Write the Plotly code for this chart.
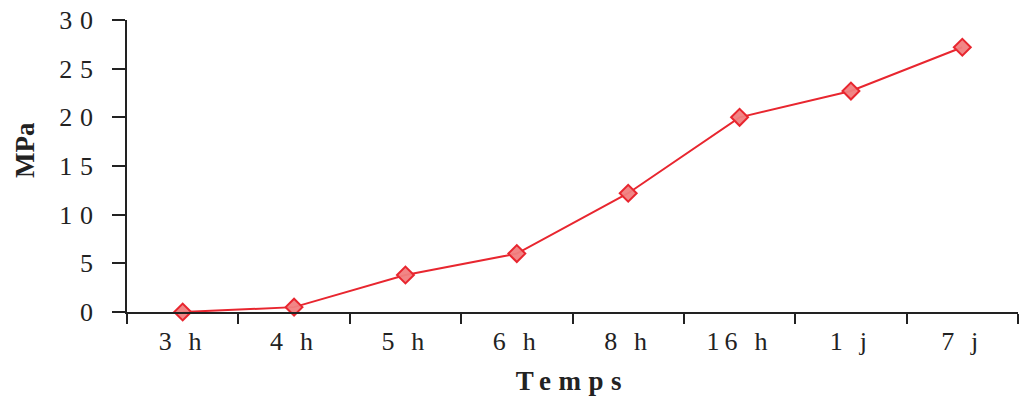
import plotly.graph_objects as go

categories = ["3 h", "4 h", "5 h", "6 h", "8 h", "16 h", "1 j", "7 j"]
mpa_values = [0.0, 0.5, 3.8, 6.0, 12.2, 20.0, 22.7, 27.2]
y_ticks = [0, 5, 10, 15, 20, 25, 30]

fig = go.Figure()
fig.add_trace(go.Scatter(
    x=categories, y=mpa_values, mode="lines+markers",
    line=dict(color="#e8262f", width=2),
    marker=dict(symbol="diamond", size=13, color="rgba(240,128,128,0.95)",
                line=dict(color="#e8262f", width=2)),
    cliponaxis=False, showlegend=False,
))

font_family = "Liberation Serif, Times New Roman, serif"
fig.update_layout(
    width=1019, height=398,
    margin=dict(l=127, r=1, t=20, b=86),
    paper_bgcolor="white", plot_bgcolor="white",
    font=dict(family=font_family, color="#222222", size=26),
    xaxis=dict(
        type="category", tickson="boundaries", ticks="outside", ticklen=10,
        tickwidth=2, tickcolor="#222222", showline=True, linecolor="#222222",
        linewidth=2, showgrid=False, zeroline=False, range=[-0.5, 7.5],
        tickfont=dict(size=26), automargin=False, ticklabelstandoff=5,
        title=dict(text="<b>Temps</b>", font=dict(size=27), standoff=16),
    ),
    yaxis=dict(
        range=[0, 30], tickvals=y_ticks, ticks="outside", ticklen=13,
        tickwidth=2, tickcolor="#222222", showline=True, linecolor="#222222",
        linewidth=2, showgrid=False, zeroline=False, ticklabelstandoff=6,
        tickfont=dict(size=26), automargin=False,
    ),
    annotations=[dict(
        text="<b>MPa</b>", textangle=-90, xref="paper", yref="paper",
        x=(25 - 127) / 891, y=(312 - 150) / 292, xanchor="center", yanchor="middle",
        showarrow=False, font=dict(size=27, family=font_family, color="#222222"),
    )],
)

post = """
document.documentElement.style.margin = '0';
document.body.style.margin = '0';
document.body.style.padding = '0';
var gd = document.getElementById('{plot_id}');
function spread() {
  gd.querySelectorAll('.xtick text').forEach(function(t){ t.style.letterSpacing = '0.2em'; });
  gd.querySelectorAll('.ytick text').forEach(function(t){ t.style.letterSpacing = '0.3em'; });
  gd.querySelectorAll('.xtitle').forEach(function(t){ t.style.letterSpacing = '0.28em'; });
}
spread();
if (gd.on) { gd.on('plotly_afterplot', spread); }
setTimeout(spread, 50);
"""
fig.write_html("out.html", post_script=post, config={"displayModeBar": False})
